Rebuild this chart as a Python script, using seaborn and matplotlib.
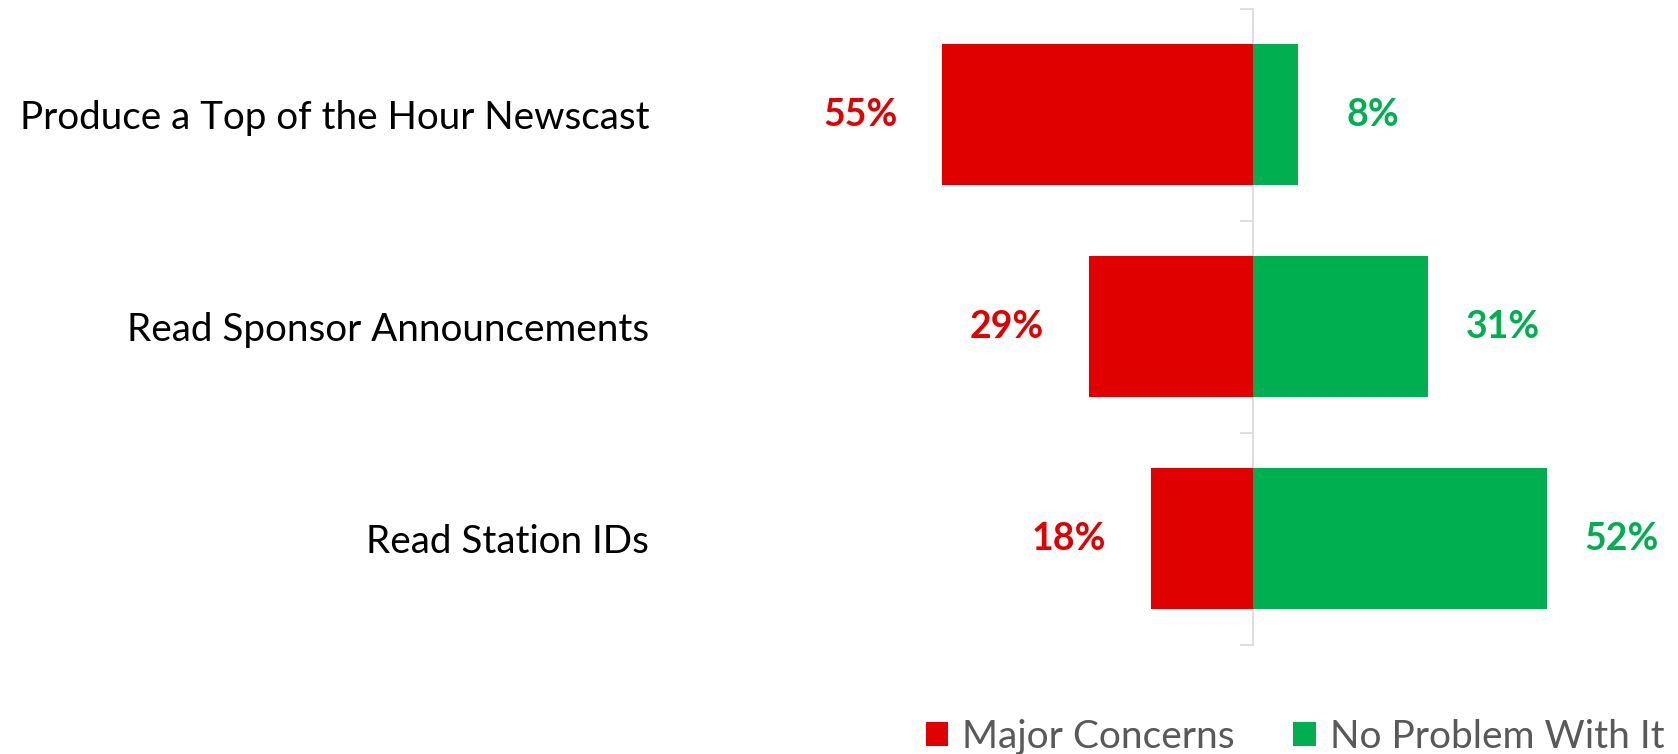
#!/usr/bin/env python3
"""Diverging bar chart: concerns vs no problem, per announcer task."""

import matplotlib
matplotlib.use("Agg")
import matplotlib.pyplot as plt
import pandas as pd
import seaborn as sns

# -- data --------------------------------------------------------------------

TASKS = [
    "Produce a Top of the Hour Newscast",
    "Read Sponsor Announcements",
    "Read Station IDs",
]
MAJOR_CONCERNS = [55, 29, 18]
NO_PROBLEM = [8, 31, 52]
SERIES = ["Major Concerns", "No Problem With It"]

# -- style -------------------------------------------------------------------

RED = "#E00000"
GREEN = "#00B050"
AXIS_GREY = "#D9D9D9"
LEGEND_GREY = "#595959"

sns.set_style("white")
plt.rcParams["font.family"] = ["Lato", "DejaVu Sans"]


def build_frame() -> pd.DataFrame:
    rows = []
    for task, bad, ok in zip(TASKS, MAJOR_CONCERNS, NO_PROBLEM):
        rows.append({"task": task, "series": SERIES[0], "value": -bad})
        rows.append({"task": task, "series": SERIES[1], "value": ok})
    return pd.DataFrame(rows)


def main() -> None:
    df = build_frame()

    fig = plt.figure(figsize=(16.78, 7.54), dpi=100)
    ax = fig.add_axes([0.3903, 0.1452, 0.6097, 0.8435])

    sns.barplot(
        data=df, y="task", x="value", hue="series",
        order=TASKS, hue_order=SERIES,
        palette={SERIES[0]: RED, SERIES[1]: GREEN},
        orient="h", dodge=False, width=0.665, saturation=1,
        linewidth=0, errorbar=None, ax=ax,
    )

    ax.set_xlim(-105.8, 75.2)
    ax.set_ylim(2.5, -0.5)
    ax.set_xticks([])
    ax.set_xlabel("")
    ax.set_ylabel("")
    for side in ["left", "right", "top", "bottom"]:
        ax.spines[side].set_visible(False)
    ax.tick_params(axis="y", length=0, pad=4, labelsize=27.8, labelcolor="black")

    # value labels outside each bar end
    for i, (bad, ok) in enumerate(zip(MAJOR_CONCERNS, NO_PROBLEM)):
        ax.text(-bad - 14.5, i, f"{bad}%", color=RED, fontsize=27,
                fontweight="bold", ha="center", va="center")
        ax.text(ok + 13.2, i, f"{ok}%", color=GREEN, fontsize=27,
                fontweight="bold", ha="center", va="center")

    # central category axis with boundary ticks
    sec = ax.secondary_yaxis(0, transform=ax.transData)
    sec.set_yticks([-0.5, 0.5, 1.5, 2.5])
    sec.set_yticklabels([])
    sec.tick_params(axis="y", direction="out", length=9.5, width=1.2,
                    color=AXIS_GREY)
    sec.spines["left"].set_color(AXIS_GREY)
    sec.spines["left"].set_linewidth(1.2)

    handles, labels = ax.get_legend_handles_labels()
    ax.get_legend().remove()
    fig.legend(
        handles, labels, loc="lower right", bbox_to_anchor=(1.008, -0.037),
        ncol=2, frameon=False, fontsize=28, labelcolor=LEGEND_GREY,
        handlelength=0.58, handleheight=0.58, handletextpad=0.36,
        columnspacing=1.5, borderpad=0.2,
    )

    fig.savefig("out.png", dpi=100)
    plt.close(fig)


if __name__ == "__main__":
    main()
